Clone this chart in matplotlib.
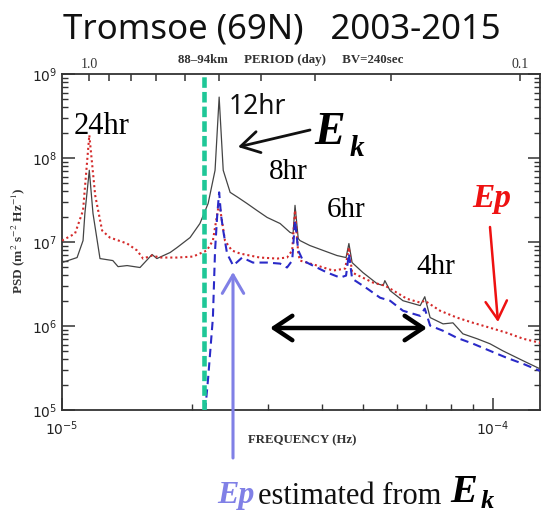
import matplotlib
matplotlib.use("Agg")
import matplotlib.pyplot as plt
from matplotlib.patches import FancyArrowPatch
from matplotlib.ticker import FixedLocator, NullFormatter, LogLocator

plt.rcParams['mathtext.fontset'] = 'stix'

# ---------------- data ----------------
ek_freq = [1.000e-5, 1.084e-5, 1.119e-5, 1.130e-5, 1.157e-5, 1.180e-5, 1.225e-5, 1.312e-5, 1.349e-5, 1.416e-5,
           1.517e-5, 1.618e-5, 1.660e-5, 1.782e-5, 1.849e-5, 1.982e-5, 2.089e-5, 2.183e-5, 2.265e-5, 2.315e-5,
           2.366e-5, 2.455e-5, 2.559e-5, 2.685e-5, 2.831e-5, 2.992e-5, 3.206e-5, 3.381e-5, 3.436e-5, 3.472e-5,
           3.532e-5, 3.565e-5, 3.758e-5, 4.036e-5, 4.345e-5, 4.560e-5, 4.630e-5, 4.710e-5, 4.989e-5, 5.383e-5,
           5.559e-5, 5.610e-5, 5.768e-5, 6.180e-5, 6.776e-5, 6.944e-5, 7.145e-5, 7.656e-5, 8.072e-5, 8.511e-5,
           9.183e-5, 9.840e-5, 1.054e-4, 1.175e-4, 1.285e-4]
ek_psd = [5.69e6, 6.53e6, 1.04e7, 2.19e7, 7.14e7, 2.19e7, 6.35e6, 6.01e6, 5.09e6, 5.24e6,
          4.97e6, 7.10e6, 6.35e6, 7.50e6, 8.59e6, 1.13e7, 1.66e7, 2.88e7, 7.14e7, 5.31e8,
          7.14e7, 3.90e7, 3.40e7, 2.88e7, 2.38e7, 1.96e7, 1.66e7, 1.30e7, 1.26e7, 2.73e7,
          1.10e7, 1.04e7, 9.08e6, 7.93e6, 6.90e6, 6.53e6, 9.59e6, 5.69e6, 4.33e6, 3.19e6,
          3.03e6, 3.47e6, 2.64e6, 2.00e6, 1.75e6, 2.23e6, 1.26e6, 1.06e6, 1.09e6, 8.07e5,
          7.05e5, 6.14e5, 5.06e5, 3.85e5, 3.09e5]

ep_freq = [1.000e-5, 1.072e-5, 1.119e-5, 1.157e-5, 1.194e-5, 1.239e-5, 1.291e-5, 1.416e-5, 1.493e-5, 1.542e-5,
           1.618e-5, 1.687e-5, 1.849e-5, 2.014e-5, 2.168e-5, 2.239e-5, 2.315e-5, 2.388e-5, 2.477e-5, 2.588e-5,
           2.877e-5, 3.155e-5, 3.327e-5, 3.420e-5, 3.472e-5, 3.532e-5, 3.565e-5, 3.908e-5, 4.256e-5, 4.539e-5,
           4.630e-5, 4.710e-5, 5.272e-5, 5.610e-5, 5.768e-5, 6.310e-5, 6.776e-5, 6.944e-5, 7.534e-5, 8.241e-5,
           8.995e-5, 9.840e-5, 1.076e-4, 1.175e-4, 1.285e-4]
ep_psd = [1.04e7, 1.26e7, 2.38e7, 1.87e8, 3.59e7, 1.37e7, 1.13e7, 9.59e6, 7.93e6, 6.35e6,
          6.90e6, 6.53e6, 6.53e6, 6.71e6, 7.93e6, 1.04e7, 2.96e7, 1.04e7, 7.93e6, 7.29e6,
          6.53e6, 6.35e6, 6.53e6, 7.93e6, 2.38e7, 7.29e6, 6.01e6, 5.24e6, 4.57e6, 4.83e6,
          8.59e6, 4.33e6, 3.28e6, 3.03e6, 2.79e6, 2.11e6, 1.90e6, 2.00e6, 1.52e6, 1.26e6,
          1.09e6, 9.53e5, 8.30e5, 7.05e5, 6.31e5]

epest_freq = [2.148e-5, 2.183e-5, 2.239e-5, 2.265e-5, 2.291e-5, 2.315e-5, 2.339e-5, 2.366e-5, 2.415e-5, 2.495e-5,
              2.618e-5, 2.773e-5, 2.992e-5, 3.206e-5, 3.327e-5, 3.420e-5, 3.472e-5, 3.532e-5, 3.622e-5, 3.819e-5,
              4.121e-5, 4.416e-5, 4.560e-5, 4.630e-5, 4.710e-5, 5.105e-5, 5.470e-5, 5.768e-5, 6.180e-5, 6.776e-5,
              6.944e-5, 7.145e-5, 7.656e-5, 8.241e-5, 8.995e-5, 9.840e-5, 1.076e-4, 1.175e-4, 1.285e-4]
epest_psd = [9.7e4, 2.41e5, 1.25e6, 7.93e6, 2.07e7, 3.90e7, 2.07e7, 1.37e7, 7.29e6, 5.24e6,
             6.53e6, 5.69e6, 5.69e6, 5.53e6, 4.97e6, 6.01e6, 1.81e7, 7.93e6, 6.01e6, 5.24e6,
             4.33e6, 3.77e6, 3.98e6, 7.29e6, 3.66e6, 2.79e6, 2.17e6, 2.00e6, 1.52e6, 1.32e6,
             1.61e6, 1.01e6, 8.77e5, 7.24e5, 6.14e5, 5.06e5, 4.18e5, 3.54e5, 2.92e5]

cutoff_freq = 2.13e-5
period_days = [1.0, 0.9, 0.8, 0.7, 0.6, 0.5, 0.4, 0.3, 0.2, 0.1]
period_labels = ["1.0", "", "", "", "", "", "", "", "", "0.1"]

title = "Tromsoe (69N)   2003-2015"
subtitle = "88\u201394km     PERIOD (day)     BV=240sec"

# ---------------- figure ----------------
W, H = 541, 513
fig = plt.figure(figsize=(W / 100, H / 100), dpi=100)
fig.patch.set_facecolor('white')

def fx(px):
    return px / W

def fy(py):
    return 1 - py / H

ax = fig.add_axes([fx(62), fy(410), fx(540) - fx(62), fy(74) - fy(410)])
ax.set_xscale('log')
ax.set_yscale('log')
ax.set_xlim(1e-5, 1.285e-4)
ax.set_ylim(1e5, 1e9)

ax.plot(ek_freq, ek_psd, color='#444444', lw=0.9, zorder=3)
ax.plot(ep_freq, ep_psd, color='#d42a2a', lw=1.5, linestyle=(0, (1, 1.4)), zorder=4)
ax.plot(epest_freq, epest_psd, color='#2a2ac8', lw=1.5, linestyle=(0, (4, 2.5)), zorder=5)
ax.axvline(cutoff_freq, color='#1fc797', lw=3.3, linestyle=(0, (2.3, 0.9)), zorder=6)

serif = 'Liberation Serif'
for s in ax.spines.values():
    s.set_color('#333333')
    s.set_linewidth(1.3)

ax.tick_params(axis='both', which='major', direction='in', length=9, width=1.1,
               colors='#333333', labelsize=10)
ax.tick_params(axis='both', which='minor', direction='in', length=4.5, width=1.0, colors='#333333')
ax.tick_params(axis='y', which='both', right=True)
ax.tick_params(axis='x', which='both', top=False, pad=7)
ax.yaxis.set_major_locator(LogLocator(base=10, numticks=10))
ax.yaxis.set_minor_locator(LogLocator(base=10, subs=range(2, 10), numticks=10))
ax.xaxis.set_minor_locator(LogLocator(base=10, subs=range(2, 10), numticks=10))
ax.xaxis.set_minor_formatter(NullFormatter())
ax.yaxis.set_minor_formatter(NullFormatter())
for lab in ax.get_xticklabels() + ax.get_yticklabels():
    lab.set_color('#222222')

# top axis: period in days
ax2 = ax.twiny()
ax2.set_xscale('log')
ax2.set_xlim(ax.get_xlim())
ax2.xaxis.set_major_locator(FixedLocator([1.0 / (p * 86400.0) for p in period_days]))
ax2.xaxis.set_minor_locator(FixedLocator([]))
ax2.set_xticklabels(period_labels, fontfamily=serif, fontsize=10, color='#222222')
ax2.tick_params(axis='x', which='major', direction='in', length=5, width=1.1, pad=2, colors='#333333')
for s in ax2.spines.values():
    s.set_visible(False)

# labels
fig.text(fx(302), fy(440), "FREQUENCY (Hz)", family=serif, fontsize=9.3, ha='center', va='center',
         color='#333333', fontweight='bold')
fig.text(fx(18), fy(241), r"PSD (m$^{2}$ s$^{-2}$ Hz$^{-1}$)", family=serif, fontsize=9.5,
         rotation=90, ha='center', va='center', color='#333333', fontweight='bold')
fig.text(fx(282), fy(30), title, family='Noto Sans', fontsize=25, ha='center', va='center', color='#111111')
fig.text(fx(291), fy(60), subtitle, family=serif, fontsize=9.3, ha='center', va='center',
         color='#333333', fontweight='bold')

# annotations
fig.text(fx(102), fy(126), "24hr", family=serif, fontsize=22, ha='center', va='center')
fig.text(fx(257), fy(107), "12hr", family='Noto Sans', fontsize=19, ha='center', va='center', color='#111111')
fig.text(fx(288), fy(172), "8hr", family=serif, fontsize=21, ha='center', va='center')
fig.text(fx(346), fy(210), "6hr", family=serif, fontsize=21, ha='center', va='center')
fig.text(fx(436), fy(267), "4hr", family=serif, fontsize=21, ha='center', va='center')

fig.text(fx(314), fy(133), "E", family=serif, fontsize=33, fontweight='bold', style='italic',
         ha='left', va='center')
fig.text(fx(350), fy(148), "k", family=serif, fontsize=21, fontweight='bold', style='italic',
         ha='left', va='center')
fig.text(fx(492), fy(198), "Ep", family=serif, fontsize=24, fontweight='bold', style='italic',
         ha='center', va='center', color='#ee1111')

# bottom caption
fig.text(fx(236), fy(496), "Ep", family=serif, fontsize=23, fontweight='bold', style='italic',
         ha='center', va='center', color='#8080e6')
fig.text(fx(258), fy(496), "estimated from", family=serif, fontsize=22, ha='left', va='center', color='#111111')
fig.text(fx(450), fy(493), "E", family=serif, fontsize=29, fontweight='bold', style='italic',
         ha='left', va='center')
fig.text(fx(481), fy(501), "k", family=serif, fontsize=19, fontweight='bold', style='italic',
         ha='left', va='center')

def arrow(p0, p1, color, lw, style, ms):
    a = FancyArrowPatch((fx(p0[0]), fy(p0[1])), (fx(p1[0]), fy(p1[1])), transform=fig.transFigure,
                        arrowstyle=style, mutation_scale=ms, color=color, lw=lw,
                        shrinkA=0, shrinkB=0, capstyle='round', joinstyle='round')
    fig.add_artist(a)

arrow((310, 130), (238, 147), '#111111', 2.0, '->,head_length=0.6,head_width=0.35', 22)
arrow((490, 227), (498, 322), '#ee1111', 1.8, '->,head_length=0.6,head_width=0.35', 22)
arrow((270, 328), (427, 328), '#000000', 3.2, '<->,head_length=0.6,head_width=0.4', 22)
arrow((233, 458), (233, 272), '#8080e6', 2.2, '->,head_length=0.6,head_width=0.35', 22)

fig.savefig('out.png', dpi=100, facecolor='white')
